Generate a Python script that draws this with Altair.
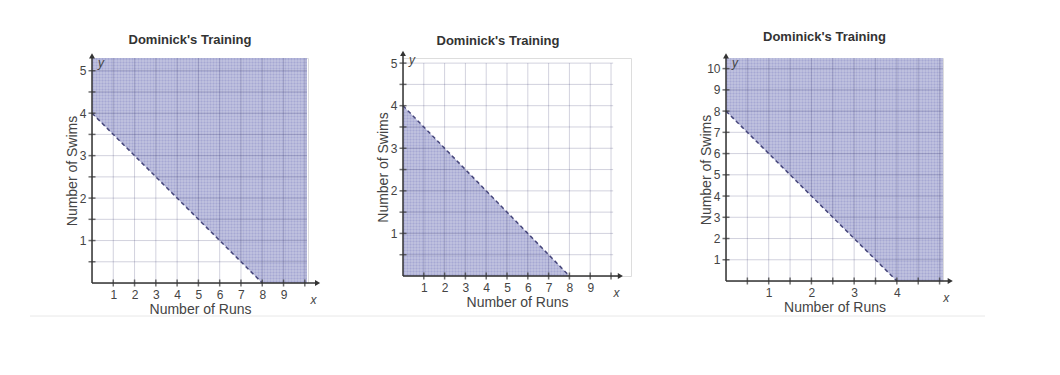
import altair as alt
import numpy as np
import pandas as pd

TITLE = "Dominick's Training"
X_TITLE = "Number of Runs"
Y_TITLE = "Number of Swims"

# Panel 1: boundary (0,4)-(8,0), shaded above
p1_line_x = [0, 8]
p1_line_y = [4, 0]
p1_side = "above"
p1_x_ticks = [1, 2, 3, 4, 5, 6, 7, 8, 9, 10]
p1_y_ticks = [0.5, 1, 1.5, 2, 2.5, 3, 3.5, 4, 4.5, 5]
p1_x_labels = [1, 2, 3, 4, 5, 6, 7, 8, 9]
p1_y_labels = [1, 2, 3, 4, 5]

# Panel 2: boundary (0,4)-(8,0), shaded below
p2_line_x = [0, 8]
p2_line_y = [4, 0]
p2_side = "below"
p2_x_ticks = [1, 2, 3, 4, 5, 6, 7, 8, 9, 10]
p2_y_ticks = [0.5, 1, 1.5, 2, 2.5, 3, 3.5, 4, 4.5, 5]
p2_x_labels = [1, 2, 3, 4, 5, 6, 7, 8, 9]
p2_y_labels = [1, 2, 3, 4, 5]

# Panel 3: boundary (0,8)-(4,0), shaded above
p3_line_x = [0, 4]
p3_line_y = [8, 0]
p3_side = "above"
p3_x_ticks = [0.5, 1, 1.5, 2, 2.5, 3, 3.5, 4, 4.5, 5]
p3_y_ticks = [1, 2, 3, 4, 5, 6, 7, 8, 9, 10]
p3_x_labels = [1, 2, 3, 4]
p3_y_labels = [1, 2, 3, 4, 5, 6, 7, 8, 9, 10]

FONT = "Liberation Sans"
FILL = "#a6a8d3"
GRID = "#34346a"
AXIS = "#333333"
LINE = "#45457a"
HATCH_PX = 3


def panel(line_x, line_y, side, x_ticks, y_ticks, x_labels, y_labels,
          x_dom, y_dom, grid_right, grid_top, x_arrow, y_arrow, width, height,
          title_dx, title_dy, extra=None):
    xs = alt.Scale(domain=[0, x_dom], nice=False, zero=False)
    ys = alt.Scale(domain=[0, y_dom], nice=False, zero=False)
    x_axis = alt.Axis(values=x_labels, domain=False, ticks=False, grid=False,
                      labelFont=FONT, labelFontSize=12, labelColor="#444",
                      labelPadding=6, title=X_TITLE, titleFont=FONT,
                      titleFontSize=14, titleFontWeight="normal", titleColor="#444",
                      titleY=26, titleBaseline="middle")
    y_axis = alt.Axis(values=y_labels, domain=False, ticks=False, grid=False,
                      labelFont=FONT, labelFontSize=12, labelColor="#444",
                      labelPadding=6, title=Y_TITLE, titleFont=FONT,
                      titleFontSize=14, titleFontWeight="normal", titleColor="#444",
                      titleX=-20, titleY=height / 2, titleBaseline="middle",
                      titleAlign="center", titleAngle=-90)

    def X(field):
        return alt.X(field, type="quantitative", scale=xs, axis=x_axis)

    def Y(field):
        return alt.Y(field, type="quantitative", scale=ys, axis=y_axis)

    # boundary helpers (straight line through the two intercept points)
    def by(x):
        return np.interp(x, [line_x[0], line_x[1]], [line_y[0], line_y[1]])

    def bx(y):
        return np.interp(y, [line_y[1], line_y[0]], [line_x[1], line_x[0]])

    # shaded region
    if side == "above":
        area = pd.DataFrame({"x": [line_x[0], line_x[1], grid_right],
                             "lo": [line_y[0], line_y[1], line_y[1]],
                             "hi": [y_dom, y_dom, y_dom]})
        hx = np.arange(HATCH_PX * x_dom / width, grid_right, HATCH_PX * x_dom / width)
        hv = pd.DataFrame({"x": hx, "y0": by(hx), "y1": y_dom})
        hy = np.arange(HATCH_PX * y_dom / height, y_dom, HATCH_PX * y_dom / height)
        hh = pd.DataFrame({"y": hy, "x0": bx(hy), "x1": grid_right})
    else:
        area = pd.DataFrame({"x": [line_x[0], line_x[1]],
                             "lo": [0, 0],
                             "hi": [line_y[0], line_y[1]]})
        hx = np.arange(HATCH_PX * x_dom / width, line_x[1], HATCH_PX * x_dom / width)
        hv = pd.DataFrame({"x": hx, "y0": 0, "y1": by(hx)})
        hy = np.arange(HATCH_PX * y_dom / height, line_y[0], HATCH_PX * y_dom / height)
        hh = pd.DataFrame({"y": hy, "x0": 0, "x1": bx(hy)})
    fill = alt.Chart(area).mark_area(color=FILL, opacity=1).encode(
        x=X("x"), y=Y("lo"), y2="hi")
    hatch_v = alt.Chart(hv).mark_rule(color="white", opacity=0.3, strokeWidth=1).encode(
        x=X("x"), y=Y("y0"), y2="y1")
    hatch_h = alt.Chart(hh).mark_rule(color="white", opacity=0.3, strokeWidth=1).encode(
        y=Y("y"), x=X("x0"), x2="x1")

    vg = pd.DataFrame({"x": x_ticks, "y0": 0, "y1": grid_top})
    hg = pd.DataFrame({"y": y_ticks, "x0": 0, "x1": grid_right})
    vgrid = alt.Chart(vg).mark_rule(color=GRID, opacity=0.22, strokeWidth=1).encode(
        x=X("x"), y=Y("y0"), y2="y1")
    hgrid = alt.Chart(hg).mark_rule(color=GRID, opacity=0.22, strokeWidth=1).encode(
        y=Y("y"), x=X("x0"), x2="x1")

    bl = pd.DataFrame({"x": line_x, "y": line_y})
    bound = alt.Chart(bl).mark_line(color=LINE, strokeDash=[4, 3], strokeWidth=1.5).encode(
        x=X("x"), y=Y("y"))

    # axes lines with arrows
    xa = pd.DataFrame({"x0": [0], "x1": [x_arrow], "y": [0]})
    ya = pd.DataFrame({"y0": [0], "y1": [y_arrow], "x": [0]})
    xaxis_line = alt.Chart(xa).mark_rule(color=AXIS, strokeWidth=1.5).encode(
        x=X("x0"), x2="x1", y=Y("y"))
    yaxis_line = alt.Chart(ya).mark_rule(color=AXIS, strokeWidth=1.5).encode(
        y=Y("y0"), y2="y1", x=X("x"))
    xarrow = alt.Chart(xa).mark_point(shape="triangle-right", filled=True, color=AXIS,
                                      size=35, opacity=1).encode(x=X("x1"), y=Y("y"))
    yarrow = alt.Chart(ya).mark_point(shape="triangle-up", filled=True, color=AXIS,
                                      size=35, opacity=1).encode(x=X("x"), y=Y("y1"))

    xt = pd.DataFrame({"x": x_ticks, "y": 0})
    yt = pd.DataFrame({"y": y_ticks, "x": 0})
    xticks = alt.Chart(xt).mark_tick(orient="vertical", color=AXIS, size=7, thickness=1.5).encode(
        x=X("x"), y=Y("y"))
    yticks = alt.Chart(yt).mark_tick(orient="horizontal", color=AXIS, size=7, thickness=1.5).encode(
        x=X("x"), y=Y("y"))

    xl = alt.Chart(xa).mark_text(text="x", font=FONT, fontStyle="italic", fontSize=12,
                                 color="#444", dy=17, dx=-4).encode(x=X("x1"), y=Y("y"))
    yl = alt.Chart(ya).mark_text(text="y", font=FONT, fontStyle="italic", fontSize=12,
                                 color="#444", dx=9, dy=7).encode(x=X("x"), y=Y("y1"))

    layers = []
    if extra is not None:
        layers.append(extra)
    layers += [fill, hatch_v, hatch_h, vgrid, hgrid, bound, xaxis_line, yaxis_line,
               xarrow, yarrow, xticks, yticks, xl, yl]
    return alt.layer(*layers).properties(
        width=width, height=height,
        title=alt.TitleParams(TITLE, font=FONT, fontSize=13, fontWeight="bold",
                              color="#333", dx=title_dx, dy=title_dy, offset=6,
                              anchor="middle"))


# faint border line of the original screenshot, under all three graphs
border = alt.Chart(pd.DataFrame({"k": [0]})).mark_rule(color="#e8e8e8", strokeWidth=1).encode(
    x=alt.value(-62), x2=alt.value(893), y=alt.value(258))

c1 = panel(p1_line_x, p1_line_y, p1_side, p1_x_ticks, p1_y_ticks, p1_x_labels, p1_y_labels,
           10.15, 5.3, 10.1, 5.3, 10.6, 5.35, 216, 225, -10, 0, extra=border)
c2 = panel(p2_line_x, p2_line_y, p2_side, p2_x_ticks, p2_y_ticks, p2_x_labels, p2_y_labels,
           10.96, 5.12, 10.1, 5.0, 10.45, 5.23, 228, 218, -19, 3)
c3 = panel(p3_line_x, p3_line_y, p3_side, p3_x_ticks, p3_y_ticks, p3_x_labels, p3_y_labels,
           5.08, 10.5, 5.08, 10.5, 5.25, 10.6, 217, 223, -10, -3)

chart = alt.hconcat(c1, c2, c3, spacing=95, bounds="flush").properties(
    autosize=alt.AutoSizeParams(type="none"),
    padding={"left": 92, "top": 58, "right": 963, "bottom": 312},
).configure_view(stroke="transparent").configure(background="white")

chart.save("out.html", embed_options={"renderer": "svg", "actions": False})
